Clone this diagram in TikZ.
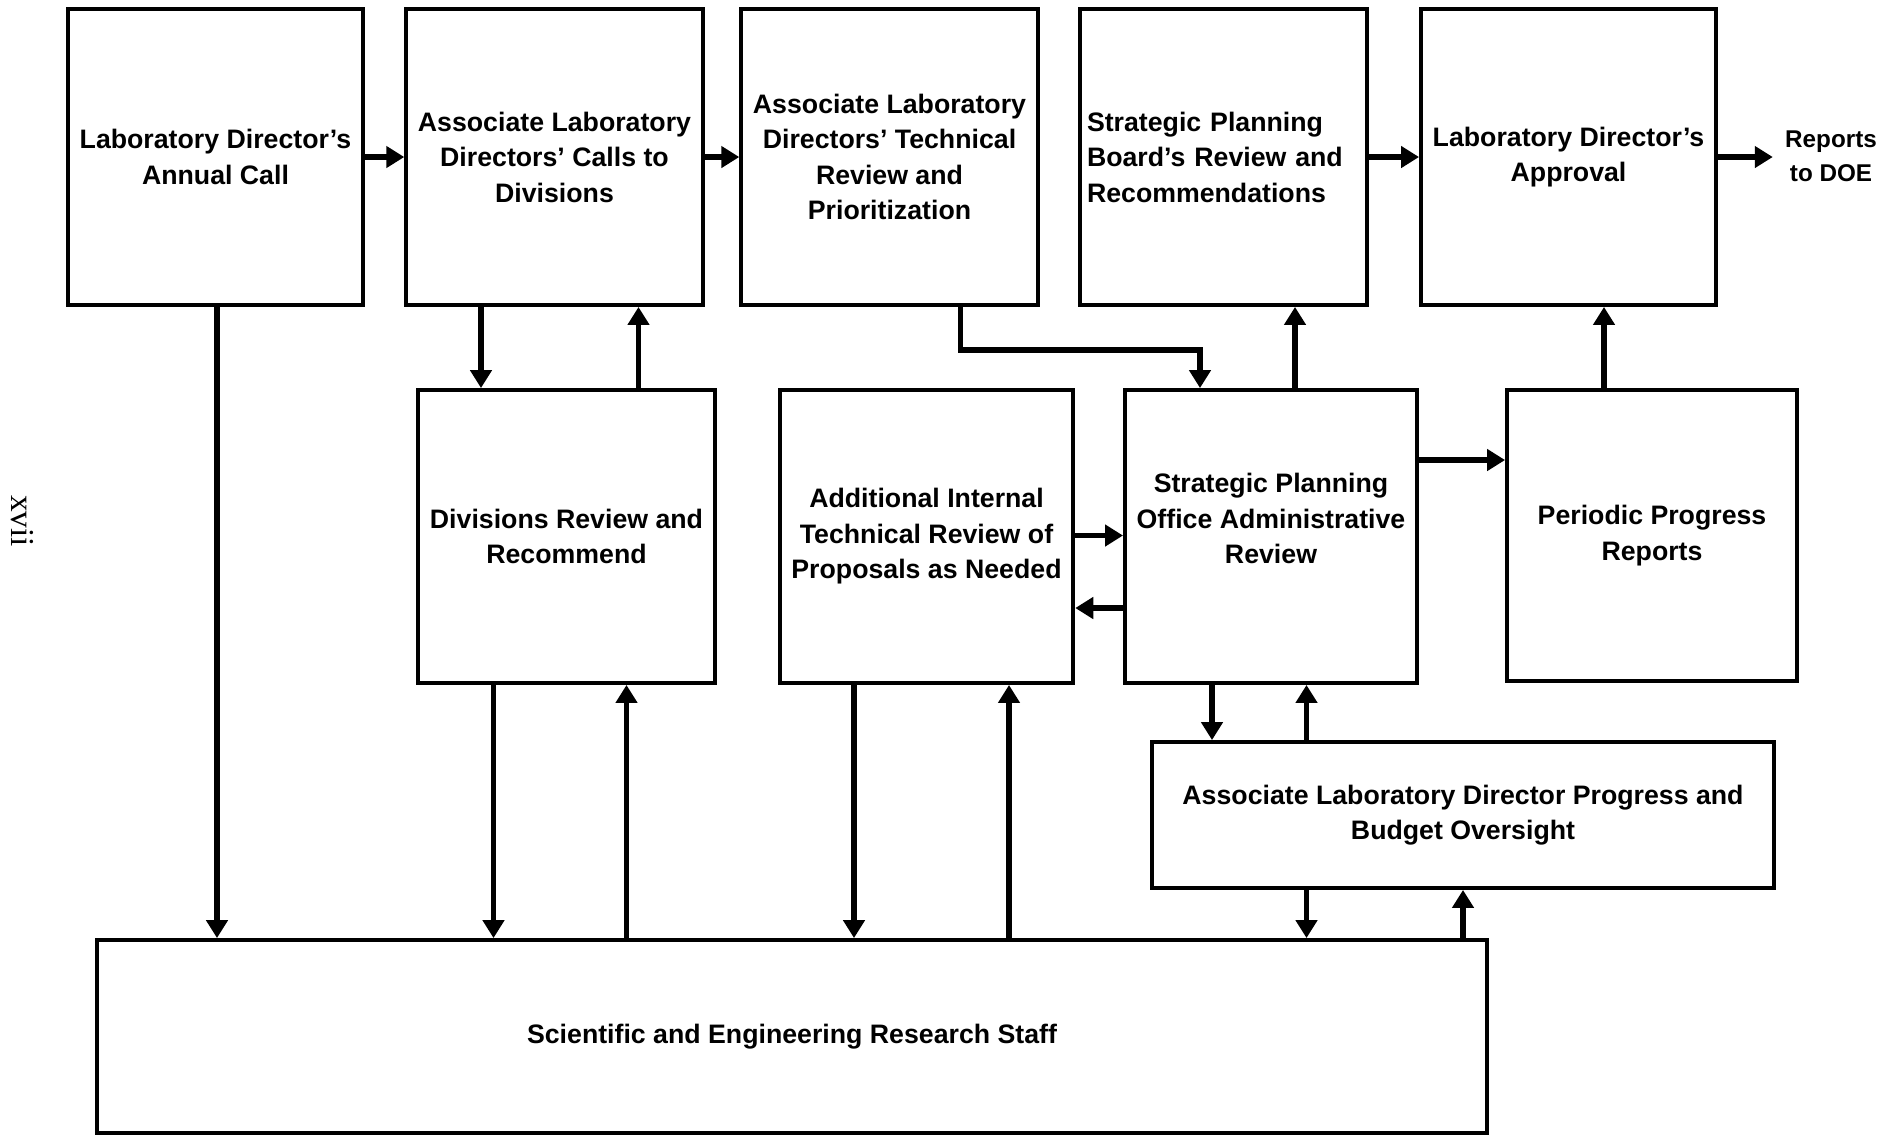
\documentclass[tikz,border=0pt]{standalone}
\usepackage{fontspec}
\setmainfont{Liberation Sans}
\newfontfamily\pagefont{Liberation Serif}
\usetikzlibrary{arrows.meta,calc}
\tikzset{feed/.style={line width=1.5pt, -{Triangle[length=1.8mm, width=2.1mm]}},
  stage/.style={draw, line width=1.1pt, font=\fontsize{7.6}{10.1}\selectfont\bfseries, align=center}}

\begin{document}
\begin{tikzpicture}
  \useasboundingbox (0,0) rectangle (19,-11.36);
  % top row
  \node[stage, minimum width=2.93cm, minimum height=2.96cm] (call) at (2.155,-1.57) {Laboratory Director's\\Annual Call};
  \node[stage, minimum width=2.89cm, minimum height=2.96cm] (alds) at (5.545,-1.57) {Associate Laboratory\\Directors' Calls to\\Divisions};
  \node[stage, minimum width=2.89cm, minimum height=2.96cm] (techrev) at (8.895,-1.57) {Associate Laboratory\\Directors' Technical\\Review and\\Prioritization};
  \node[stage, minimum width=2.87cm, minimum height=2.96cm, text width=2.73cm, inner xsep=0.7mm, align=left] (spb) at (12.235,-1.57) {Strategic Planning\\Board's Review and\\Recommendations};
  \node[stage, minimum width=2.89cm, minimum height=2.96cm] (ldok) at (15.685,-1.57) {Laboratory Director's\\Approval};
  \node[font=\fontsize{6.9}{9.6}\selectfont\bfseries, align=center] (doe) at (18.31,-1.56) {Reports\\to DOE};
  % middle row
  \node[stage, minimum width=2.89cm, minimum height=2.93cm] (divs) at (5.665,-5.365) {Divisions Review and\\Recommend};
  \node[stage, minimum width=2.87cm, minimum height=2.93cm] (addrev) at (9.265,-5.365) {Additional Internal\\Technical Review of\\Proposals as Needed};
  \node[stage, minimum width=2.86cm, minimum height=2.93cm] (spo) at (12.71,-5.365) {Strategic Planning\\Office Administrative\\Review\\\mbox{}};
  \node[stage, minimum width=2.90cm, minimum height=2.91cm] (ppr) at (16.52,-5.355) {Periodic Progress\\Reports};
  % bottom
  \node[stage, minimum width=6.22cm, minimum height=1.46cm] (aldpb) at (14.63,-8.15) {Associate Laboratory Director Progress and\\Budget Oversight};
  \node[stage, minimum width=13.9cm, minimum height=1.93cm] (staff) at (7.92,-10.365) {Scientific and Engineering Research Staff};
  \node[rotate=-90, font=\pagefont\fontsize{9.5}{11}\selectfont] (pgno) at (0.22,-5.21) {xvii};
  % connector columns and rows
  \coordinate (c0) at (2.17,0);
  \coordinate (c1) at (4.81,0);
  \coordinate (c2) at (6.385,0);
  \coordinate (c3) at (4.935,0);
  \coordinate (c4) at (6.265,0);
  \coordinate (c5) at (8.54,0);
  \coordinate (c6) at (10.09,0);
  \coordinate (c7) at (9.605,0);
  \coordinate (c8) at (12.00,0);
  \coordinate (c9) at (12.95,0);
  \coordinate (c10) at (16.04,0);
  \coordinate (c11) at (12.12,0);
  \coordinate (c12) at (13.065,0);
  \coordinate (r0) at (0,-3.50);
  \coordinate (r1) at (0,-4.60);
  \coordinate (r2) at (0,-5.355);
  \coordinate (r3) at (0,-6.08);
  % top flow
  \draw[feed] (call.east) -- (alds.west);
  \draw[feed] (alds.east) -- (techrev.west);
  \draw[feed] (spb.east) -- (ldok.west);
  \draw[feed] (ldok.east) -- (ldok.east -| doe.west);
  % up and down
  \draw[feed] (call.south -| c0) -- (staff.north -| c0);
  \draw[feed] (alds.south -| c1) -- (divs.north -| c1);
  \draw[feed] (divs.north -| c2) -- (alds.south -| c2);
  \draw[feed] (divs.south -| c3) -- (staff.north -| c3);
  \draw[feed] (staff.north -| c4) -- (divs.south -| c4);
  \draw[feed] (addrev.south -| c5) -- (staff.north -| c5);
  \draw[feed] (staff.north -| c6) -- (addrev.south -| c6);
  \draw[feed] (techrev.south -| c7) |- (r0 -| c8) -- (spo.north -| c8);
  \draw[feed] (spo.north -| c9) -- (spb.south -| c9);
  \draw[feed] (ppr.north -| c10) -- (ldok.south -| c10);
  \draw[feed] (spo.south -| c11) -- (aldpb.north -| c11);
  \draw[feed] (aldpb.north -| c12) -- (spo.south -| c12);
  \draw[feed] (aldpb.south -| c12) -- (staff.north -| c12);
  \draw[feed] (staff.north -| aldpb.south) -- (aldpb.south);
  % sideways
  \draw[feed] (spo.east |- r1) -- (ppr.west |- r1);
  \draw[feed] (addrev.east |- r2) -- (spo.west |- r2);
  \draw[feed] (spo.west |- r3) -- (addrev.east |- r3);
\end{tikzpicture}
\end{document}
